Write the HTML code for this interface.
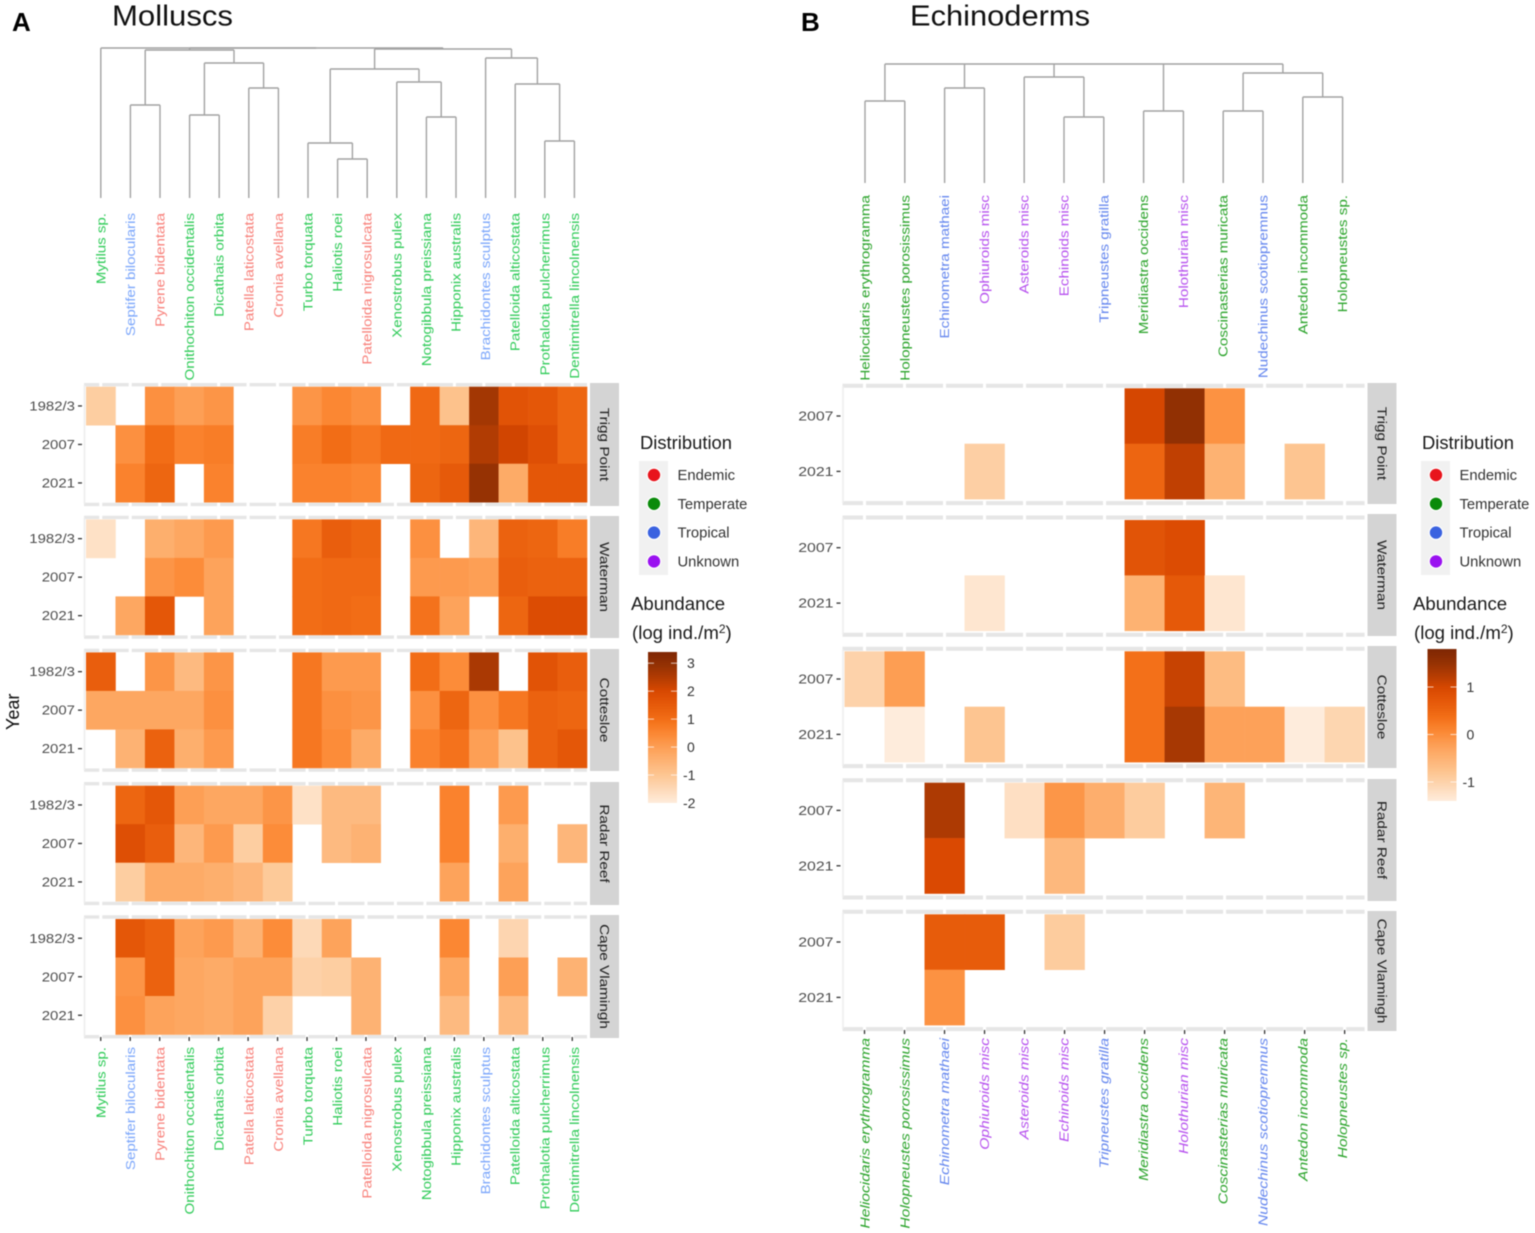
<!DOCTYPE html>
<html>
<head>
<meta charset="utf-8">
<title>Molluscs and Echinoderms heatmaps</title>
<style>
html,body{margin:0;padding:0;background:#fff;width:1535px;height:1233px;overflow:hidden}
svg{display:block;filter:blur(.5px)}
text{font-family:"Liberation Sans",sans-serif}
.title{font-size:29px;fill:#111}
.letter{font-size:26px;font-weight:bold;fill:#000}
</style>
</head>
<body>
<svg id="fig" xmlns="http://www.w3.org/2000/svg" width="1535" height="1233" viewBox="0 0 1535 1233">
  <text class="letter" x="12" y="31">A</text>
  <text class="title" x="112" y="25.5" textLength="121" lengthAdjust="spacingAndGlyphs">Molluscs</text>
  <text class="letter" x="801" y="31">B</text>
  <text class="title" x="910" y="25.5" textLength="180" lengthAdjust="spacingAndGlyphs">Echinoderms</text>
  <text x="0" y="0" transform="translate(19,730) rotate(-90)" font-size="18" fill="#111">Year</text>
  <defs id="defs"></defs>
  <g id="chartA"></g>
  <g id="chartB"></g>
</svg>
<script>
// ---------- Molluscs data ----------
const _ = null;
const molluscSpecies = ["Mytilus sp.","Septifer bilocularis","Pyrene bidentata","Onithochiton occidentalis","Dicathais orbita","Patella laticostata","Cronia avellana","Turbo torquata","Haliotis roei","Patelloida nigrosulcata","Xenostrobus pulex","Notogibbula preissiana","Hipponix australis","Brachidontes sculptus","Patelloida alticostata","Prothalotia pulcherrimus","Dentimitrella lincolnensis"];
const molluscDistribution = ["T","Tr","E","T","T","E","E","T","T","E","T","T","T","Tr","T","T","T"];
const molluscYears = ["1982/3","2007","2021"];
const molluscTrigg = [
  [-1.2,_,0.3,0,0.2,_,_,0.2,0.5,0.3,_,1.1,-0.9,2.7,1.7,1.6,1.2],
  [_,0.3,1.0,0.6,0.7,_,_,0.7,1.0,0.8,1.1,1.1,1.2,2.5,2.1,1.8,1.2],
  [_,0.6,1.2,_,0.6,_,_,0.6,0.6,0.5,_,1.2,1.5,2.9,-0.3,1.6,1.6]];
const molluscWaterman = [
  [-1.7,_,-0.4,-0.2,0.1,_,_,0.8,1.4,1.2,_,0.3,_,-0.6,1.3,1.2,0.7],
  [_,_,0.2,0.4,-0.1,_,_,1.0,1.1,1.1,_,0.1,0.1,0,1.4,1.3,1.3],
  [_,-0.2,1.6,_,-0.1,_,_,1.0,1.1,1.0,_,0.9,-0.1,_,1.2,1.9,1.9]];
const molluscCottesloe = [
  [1.4,_,0.2,-0.7,0.2,_,_,0.8,0.1,0.1,_,1.0,0.4,2.6,_,1.7,1.4],
  [-0.2,-0.2,-0.2,-0.2,0.3,_,_,0.8,0.3,0.2,_,0.3,1.2,0.3,0.8,1.3,1.2],
  [_,-0.5,1.3,-0.4,0.1,_,_,0.8,0.4,-0.3,_,0.6,0.9,0,-0.9,1.3,1.6]];
const molluscRadar = [
  [_,1.2,1.6,0,-0.2,-0.2,0.2,-1.7,-0.7,-0.7,_,_,0.6,_,0.1,_,_],
  [_,1.8,1.4,-0.6,0.1,-1.2,0.4,_,-0.7,-0.5,_,_,0.6,_,-0.4,_,-0.6],
  [_,-1.2,-0.3,-0.3,-0.4,-0.6,-1.1,_,_,_,_,_,-0.1,_,-0.1,_,_]];
const molluscCape = [
  [_,1.6,1.3,-0.1,0.1,-0.5,0.4,-1.5,-0.1,_,_,_,0.5,_,-1.4,_,_],
  [_,0.2,1.3,-0.2,-0.3,-0.1,-0.1,-1.3,-1.2,-0.5,_,_,-0.2,_,0,_,-0.5],
  [_,0.3,-0.1,-0.2,-0.3,-0.1,-1.3,_,_,-0.5,_,_,-0.7,_,-0.7,_,_]];
const molluscTicks = [3,2,1,0,-1,-2];
const molluscDendro = {h:48,c:[0,{h:48,c:[
  {h:50,c:[{h:105,c:[1,2]},{h:63,c:[{h:115,c:[3,4]},{h:88,c:[5,6]}]}]},
  {h:49,c:[
    {h:69,c:[{h:143,c:[7,{h:159,c:[8,9]}]},{h:82,c:[10,{h:117,c:[11,12]}]}]},
    {h:58,c:[13,{h:84,c:[14,{h:141,c:[15,16]}]}]}
  ]}
]}]};

// ---------- Echinoderms data ----------
const echinoSpecies = ["Heliocidaris erythrogramma","Holopneustes porosissimus","Echinometra mathaei","Ophiuroids misc","Asteroids misc","Echinoids misc","Tripneustes gratilla","Meridiastra occidens","Holothurian misc","Coscinasterias muricata","Nudechinus scotiopremnus","Antedon incommoda","Holopneustes sp."];
const echinoDistribution = ["T","T","Tr","U","U","U","Tr","T","U","T","Tr","T","T"];
const echinoYears = ["2007","2021"];
const echinoTrigg = [
  [_,_,_,_,_,_,_,1.0,1.55,-0.05,_,_,_],
  [_,_,_,-0.95,_,_,_,0.5,1.15,-0.5,_,-0.8,_]];
const echinoWaterman = [
  [_,_,_,_,_,_,_,0.78,0.9,_,_,_,_],
  [_,_,_,-1.3,_,_,_,-0.5,0.7,-1.3,_,_,_]];
const echinoCottesloe = [
  [-1.0,-0.2,_,_,_,_,_,0.35,1.1,-0.65,_,_,_],
  [_,-1.4,_,-0.8,_,_,_,0.35,1.35,-0.25,-0.25,-1.4,-1.05]];
const echinoRadar = [
  [_,_,1.3,_,-1.2,-0.1,-0.45,-0.9,_,-0.55,_,_,_],
  [_,_,0.95,_,_,-0.6,_,_,_,_,_,_,_]];
const echinoCape = [
  [_,_,0.65,0.65,_,-0.9,_,_,_,_,_,_,_],
  [_,_,-0.05,_,_,_,_,_,_,_,_,_,_]];
const echinoTicks = [1,0,-1];
const echinoDendro = {h:64,c:[
  {h:101,c:[0,1]},
  {h:88,c:[2,3]},
  {h:77,c:[4,{h:117,c:[5,6]}]},
  {h:111,c:[7,8]},
  {h:73,c:[{h:111,c:[9,10]},{h:97,c:[11,12]}]}
]};

const siteNames = ["Trigg Point","Waterman","Cottesloe","Radar Reef","Cape Vlamingh"];
const distributionNames = ["Endemic","Temperate","Tropical","Unknown"];
const distributionDots = ["#e8141c","#0a8a0a","#3a62e0","#9a12f0"];

// ---------- colour scale ----------
const rampPos = [0,.185,.37,.47,.556,.65,.74,.83,.926,1];
const rampCol = [[254,236,220],[253,198,146],[253,159,85],[251,133,48],[242,109,22],[230,90,10],[217,72,1],[178,60,3],[143,47,3],[127,39,4]];
function ramp(t){
  t=Math.max(0,Math.min(1,t));
  let i=0;
  while(i<rampPos.length-2 && t>rampPos[i+1]) i++;
  const f=(t-rampPos[i])/(rampPos[i+1]-rampPos[i]);
  const c=rampCol[i].map((a,k)=>Math.round(a+(rampCol[i+1][k]-a)*f));
  return "rgb("+c.join(",")+")";
}

// ---------- svg helper ----------
const NS="http://www.w3.org/2000/svg";
function make(parent,tag,attrs,txt){
  const e=document.createElementNS(NS,tag);
  for(const k in attrs) e.setAttribute(k,attrs[k]);
  if(txt!==undefined) e.textContent=txt;
  parent.appendChild(e);
  return e;
}

function drawChart(cfg){
  const root=document.getElementById(cfg.id);
  const n=cfg.species.length;
  const xBand=i=>cfg.x0+i*cfg.cw;
  const xMid=i=>cfg.x0+(i+.5)*cfg.cw;
  const xLeaf=i=>cfg.leaf0+i*cfg.leafStep;
  const tOf=v=>(v-cfg.dom[0])/(cfg.dom[1]-cfg.dom[0]);

  // dendrogram
  const dg=make(root,"g",{fill:"none",stroke:"#a2a2a2","stroke-width":1.4});
  
  
  function nodeX(nd){
    if(typeof nd==="number") return xLeaf(nd);
    return (nodeX(nd.c[0])+nodeX(nd.c[nd.c.length-1]))/2;
  }
  function walk(nd){
    const xs=nd.c.map(nodeX);
    const bar=make(dg,"path",{d:"M"+xs[0]+" "+nd.h+"H"+xs[xs.length-1]});
    
    
    nd.c.forEach((ch,i)=>{
      const leaf=typeof ch==="number";
      const yEnd=leaf?cfg.leafY:ch.h;
      const st=make(dg,"path",{d:"M"+xs[i]+" "+nd.h+"V"+yEnd});
      
      
      if(!leaf) walk(ch);
    });
  }
  walk(cfg.dendro);

  // species labels, top & bottom
  cfg.species.forEach((s,i)=>{
    const col=cfg.labelCol[cfg.dist[i]];
    const top=make(root,"text",{transform:"translate("+(xLeaf(i)+cfg.labelShift)+","+cfg.topY+") rotate(-90) scale("+cfg.topScale+",1)","text-anchor":"end","font-size":13,fill:col},s);
    
    
    const bot=make(root,"text",{transform:"translate("+(xLeaf(i)+cfg.labelShift)+","+cfg.botY+") rotate(-90) scale("+cfg.botScale+",1)","text-anchor":"end","font-size":13,fill:col,"font-style":cfg.botStyle},s);
    
    
    const tk=make(root,"line",{x1:xMid(i),x2:xMid(i),y1:cfg.botTick,y2:cfg.botTick+4,stroke:"#333","stroke-width":1.3});
    
    
  });

  // facets
  cfg.panels.forEach((vals,p)=>{
    const top=cfg.panelTop[p];
    const rowH=cfg.panelH/vals.length;
    const yBand=r=>top+r*rowH;
    const pg=make(root,"g",{});
    
    

    // panel frame: broken grid dashes + left edge
    const yA=top-cfg.dashTop, yB=top+cfg.panelH+cfg.dashBot;
    const xEnd=cfg.x0+n*cfg.cw;
    [yA,yB].forEach(y=>{
      for(let i=-1;i<n;i++){
        const a=i<0?cfg.x0-2:xMid(i)+1.5;
        const b=i===n-1?xEnd:xMid(i+1)-1.5;
        const d=make(pg,"line",{x1:a,x2:b,y1:y,y2:y,stroke:"#e6e6e6","stroke-width":cfg.dashW});
        
        
      }
    });
    const ed=make(pg,"line",{x1:cfg.x0-1.5,x2:cfg.x0-1.5,y1:yA,y2:yB,stroke:"#ececec","stroke-width":1.5});
    
    

    // cells
    vals.forEach((row,r)=>{
      row.forEach((v,i)=>{
        if(v===null) return;
        const c=make(pg,"rect",{x:xBand(i),y:yBand(r),width:cfg.cw+.3,height:rowH+.3,fill:ramp(tOf(v))});
        
        
      });
      const yT=yBand(r)+rowH/2;
      const tick=make(pg,"line",{x1:cfg.x0-8,x2:cfg.x0-4,y1:yT,y2:yT,stroke:"#333","stroke-width":1.3});
      
      
      const lb=make(pg,"text",{transform:"translate("+(cfg.x0-11)+","+(yT+4.5)+") scale("+cfg.yScale+",1)","text-anchor":"end","font-size":13,fill:"#4d4d4d"},cfg.years[r]);
      
      
    });

    // strip
    const st=cfg.strips[p];
    const sr=make(pg,"rect",{x:cfg.stripX,y:st[0],width:cfg.stripW,height:st[1]-st[0],fill:"#d4d4d4"});
    
    
    const cx=cfg.stripX+cfg.stripW/2-4.5, cy=(st[0]+st[1])/2;
    const sl=make(pg,"text",{transform:"translate("+cx+","+cy+") rotate(90) scale(1.18,1)","text-anchor":"middle","font-size":13,fill:"#1f1f1f"},siteNames[p]);
    
    
  });

  // distribution legend
  const L=cfg.legend;
  const lg=make(root,"g",{});
  
  
  const lt=make(lg,"text",{x:L.x,y:449,"font-size":18.4,fill:"#1a1a1a"},"Distribution");
  
  
  const kb=make(lg,"rect",{x:L.x-1,y:461,width:29,height:114,fill:"#f1f1f1"});
  
  
  distributionNames.forEach((d,i)=>{
    const y=475+i*28.8;
    const dot=make(lg,"circle",{cx:L.x+14,cy:y,r:6.8,fill:distributionDots[i],stroke:"#fff","stroke-width":1.2});
    
    
    const tx=make(lg,"text",{x:L.x+37.5,y:y+5,"font-size":14.8,fill:"#333"},d);
    
    
  });

  // abundance colourbar
  const ag=make(root,"g",{});
  
  
  const a1=make(ag,"text",{x:L.ax,y:610,"font-size":18.6,fill:"#1a1a1a"},"Abundance");
  
  
  const a2=make(ag,"text",{x:L.ax+1,y:639,"font-size":18.6,fill:"#1a1a1a"},"(log ind./m");
  
  
  const a3=make(a2,"tspan",{dy:-6,"font-size":12},"2");
  
  
  const a4=make(a2,"tspan",{dy:6},")");
  
  

  const grad=make(document.getElementById("defs"),"linearGradient",{id:cfg.id+"Grad",x1:0,y1:1,x2:0,y2:0});
  for(let k=0;k<=20;k++){
    make(grad,"stop",{offset:(k/20),"stop-color":ramp(k/20)});
  }
  const vToY=v=>L.by1+(v-cfg.dom[0])/(cfg.dom[1]-cfg.dom[0])*(L.by0-L.by1);
  const bar=make(ag,"rect",{x:L.bx,y:L.by0,width:29,height:L.by1-L.by0,fill:"url(#"+cfg.id+"Grad)"});
  
  
  cfg.ticks.forEach(v=>{
    const y=vToY(v);
    if(y>L.by0 && y<L.by1){
      [[L.bx,L.bx+6],[L.bx+23,L.bx+29]].forEach(p=>{
        const m=make(ag,"line",{x1:p[0],x2:p[1],y1:y,y2:y,stroke:"#fff","stroke-opacity":.7,"stroke-width":1});
        
        
      });
    }
    const t=make(ag,"text",{x:v<0?L.bx+35:L.bx+39,y:y+5,"font-size":14,fill:"#333"},String(v));
    
    
  });
}

drawChart({
  id:"chartA",species:molluscSpecies,dist:molluscDistribution,years:molluscYears,
  panels:[molluscTrigg,molluscWaterman,molluscCottesloe,molluscRadar,molluscCape],
  dendro:molluscDendro,ticks:molluscTicks,dom:[-2,3.4],
  x0:86,cw:29.47,panelTop:[386.7,519.4,652.4,785.7,919],panelH:115.5,
  strips:[[383,506],[516,638],[649,771],[782,905],[915,1038]],stripX:590,stripW:29,
  leaf0:100.8,leafStep:29.6,
  leafY:198,topY:213,botY:1047,topScale:1.16,botScale:1.16,botStyle:"normal",labelShift:4.5,botTick:1037,
  dashTop:2,dashBot:2.2,dashW:3.4,yScale:1.15,
  labelCol:{T:"#2fcb58",Tr:"#7ba6fb",E:"#f8807a"},
  legend:{x:640,ax:631,bx:648,by0:652,by1:803}
});
drawChart({
  id:"chartB",species:echinoSpecies,dist:echinoDistribution,years:echinoYears,
  panels:[echinoTrigg,echinoWaterman,echinoCottesloe,echinoRadar,echinoCape],
  dendro:echinoDendro,ticks:echinoTicks,dom:[-1.4,1.8],
  x0:844.5,cw:40.01,panelTop:[388.3,520,651.3,782.7,914.3],panelH:110.8,
  strips:[[383,504],[514,636],[646,768],[779,901],[911,1031]],stripX:1367.5,stripW:29,
  leaf0:865,leafStep:39.8,
  leafY:183,topY:195,botY:1038,topScale:1.17,botScale:1.2,botStyle:"italic",labelShift:4.5,botTick:1030,
  dashTop:2.5,dashBot:4,dashW:4,yScale:1.22,
  labelCol:{T:"#2aa32a",Tr:"#6486ee",U:"#b650ee"},
  legend:{x:1422,ax:1413,bx:1427.5,by0:649,by1:801}
});
</script>
</body>
</html>
